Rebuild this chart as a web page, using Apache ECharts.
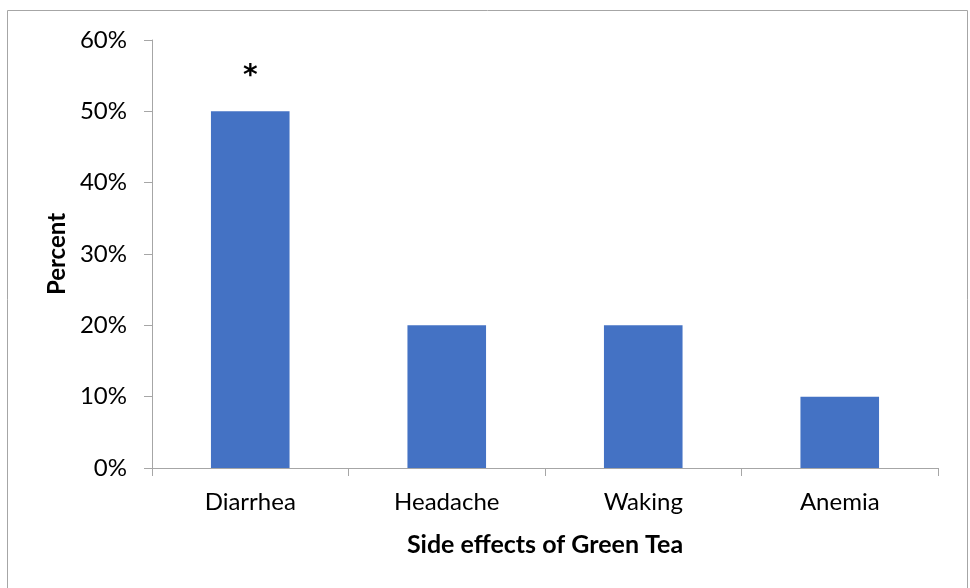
<!DOCTYPE html>
<html>
<head>
<meta charset="utf-8">
<script src="https://cdn.jsdelivr.net/npm/echarts@6/dist/echarts.min.js"></script>
<style>
html,body{margin:0;padding:0;background:#fff;}
#chart{width:970px;height:588px;}
</style>
</head>
<body>
<div id="chart"></div>
<script>
const categories = ['Diarrhea', 'Headache', 'Waking', 'Anemia'];
const percents = [50, 20, 20, 10];
const annotations = ['*', '', '', ''];
const yTicks = [0, 10, 20, 30, 40, 50, 60];
const xTitle = 'Side effects of Green Tea';
const yTitle = 'Percent';

const font = 'Lato, "Open Sans", sans-serif';
const chart = echarts.init(document.getElementById('chart'), null, {renderer: 'canvas'});
chart.setOption({
  animation: false,
  backgroundColor: '#ffffff',
  graphic: [{
    type: 'rect',
    shape: {x: 7.5, y: 10.5, width: 960, height: 620},
    style: {fill: 'none', stroke: '#A6A6A6', lineWidth: 1},
    silent: true
  }],
  grid: {left: 152, right: 32, top: 40, bottom: 120, containLabel: false},
  xAxis: {
    type: 'category',
    data: categories,
    name: xTitle,
    nameLocation: 'middle',
    nameGap: 64,
    nameTextStyle: {fontFamily: font, fontSize: 25, fontWeight: 'bold', color: '#000'},
    axisLine: {lineStyle: {color: '#A6A6A6', width: 1}},
    axisTick: {show: true, length: 8, alignWithLabel: false, lineStyle: {color: '#A6A6A6'}},
    axisLabel: {fontFamily: font, fontSize: 24, color: '#000', margin: 22}
  },
  yAxis: {
    type: 'value',
    min: yTicks[0],
    max: yTicks[yTicks.length - 1],
    interval: 10,
    name: yTitle,
    nameLocation: 'middle',
    nameGap: 82,
    nameRotate: 90,
    nameTextStyle: {fontFamily: font, fontSize: 24, fontWeight: 'bold', color: '#000'},
    axisLine: {show: true, lineStyle: {color: '#A6A6A6', width: 1}},
    axisTick: {show: true, length: 8, lineStyle: {color: '#A6A6A6'}},
    splitLine: {show: false},
    axisLabel: {fontFamily: font, fontSize: 24, color: '#000', margin: 25, formatter: v => v + '%'}
  },
  series: [{
    type: 'bar',
    barWidth: '40%',
    itemStyle: {color: '#4472C4'},
    data: percents.map((v, i) => ({
      value: v,
      label: {
        show: annotations[i] !== '',
        position: 'top',
        distance: 21,
        formatter: annotations[i],
        fontFamily: '"DejaVu Sans", sans-serif',
        fontSize: 28,
        fontWeight: 'bold',
        color: '#000'
      }
    }))
  }]
});
</script>
</body>
</html>
